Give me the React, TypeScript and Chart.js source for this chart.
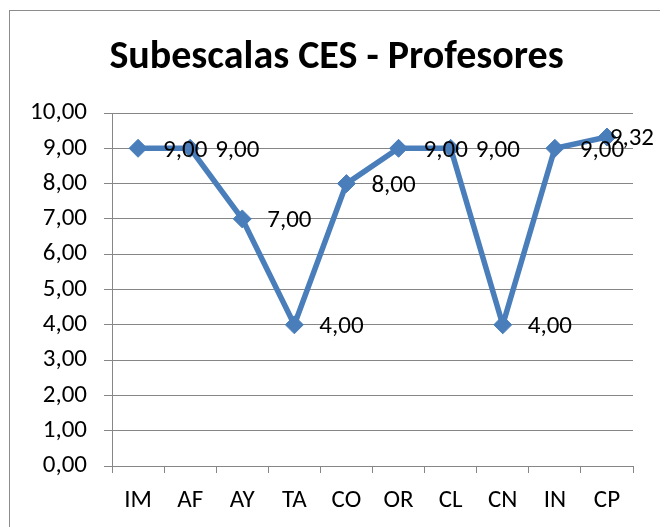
import React, { useEffect, useRef } from "react";
import { Chart, registerables } from "chart.js";

Chart.register(...registerables);

const categories = ["IM", "AF", "AY", "TA", "CO", "OR", "CL", "CN", "IN", "CP"];
const values = [9, 9, 7, 4, 8, 9, 9, 4, 9, 9.32];
const yTicks = [0, 1, 2, 3, 4, 5, 6, 7, 8, 9, 10];
const titleText = "Subescalas CES - Profesores";

const FONT = "Carlito, Lato, 'Open Sans', sans-serif";
const BLUE = "#4a7ebb";
const GRID = "#868686";

const fmt = (v: number) => v.toFixed(2).replace(".", ",");

const labelPlugin = {
  id: "pointLabels",
  afterDatasetsDraw(chart: any) {
    const ctx = chart.ctx;
    const meta = chart.getDatasetMeta(0);
    ctx.save();
    ctx.font = `25px ${FONT}`;
    ctx.fillStyle = "#000";
    ctx.textAlign = "left";
    ctx.textBaseline = "middle";
    meta.data.forEach((pt: any, i: number) => {
      const txt = fmt(values[i]);
      const w = ctx.measureText(txt).width;
      let x = pt.x + 25;
      const maxX = chart.width - 9 - w;
      if (x > maxX) x = maxX;
      ctx.fillText(txt, x, pt.y + 2);
    });
    ctx.restore();
  },
};

export default function App() {
  const ref = useRef<HTMLCanvasElement>(null);
  useEffect(() => {
    if (!ref.current) return;
    const chart = new Chart(ref.current, {
      type: "line",
      data: {
        labels: categories,
        datasets: [
          {
            data: values,
            borderColor: BLUE,
            backgroundColor: BLUE,
            borderWidth: 5.5,
            pointStyle: "rectRot",
            pointRadius: 9,
            pointBorderWidth: 1,
            pointBackgroundColor: BLUE,
            pointBorderColor: BLUE,
            tension: 0,
          },
        ],
      },
      options: {
        animation: false,
        responsive: false,
        maintainAspectRatio: false,
        layout: { padding: 0 },
        plugins: {
          legend: { display: false },
          tooltip: { enabled: false },
          title: {
            display: true,
            text: titleText,
            color: "#000",
            font: { family: FONT, size: 40, weight: "bold", lineHeight: 1.2 },
            padding: { top: 23, bottom: 31 },
          },
        },
        scales: {
          x: {
            offset: true,
            grid: {
              offset: true,
              drawOnChartArea: false,
              drawTicks: true,
              tickLength: 7,
              color: GRID,
            },
            border: { color: GRID, width: 1 },
            ticks: {
              color: "#000",
              font: { family: FONT, size: 25 },
              padding: 13,
              maxRotation: 0,
              autoSkip: false,
            },
            afterFit: (s: any) => {
              s.height = 61;
            },
          },
          y: {
            min: 0,
            max: 10,
            afterBuildTicks: (s: any) => {
              s.ticks = yTicks.map((v) => ({ value: v }));
            },
            grid: { color: GRID, tickLength: 8, lineWidth: 1 },
            border: { color: GRID, width: 1 },
            ticks: {
              color: "#000",
              font: { family: FONT, size: 25 },
              padding: 17,
              callback: (v: any) => fmt(Number(v)),
            },
            afterFit: (s: any) => {
              s.width = 102;
            },
          },
          yRight: {
            axis: "y",
            position: "right",
            min: 0,
            max: 10,
            display: true,
            grid: { display: false, drawTicks: false },
            border: { display: false },
            ticks: { display: false },
            afterFit: (s: any) => {
              s.width = 30;
            },
          },
        },
      },
      plugins: [labelPlugin],
    });
    return () => chart.destroy();
  }, []);
  return (
    <div
      style={{
        margin: "2px 0 0 1px",
        width: 653,
        height: 516,
        borderTop: "1px solid #8c8c8c",
        borderLeft: "1px solid #8c8c8c",
        borderRight: "1px solid #8c8c8c",
        background: "#fff",
      }}
    >
      <canvas ref={ref} width={653} height={516} style={{ display: "block" }} />
    </div>
  );
}
